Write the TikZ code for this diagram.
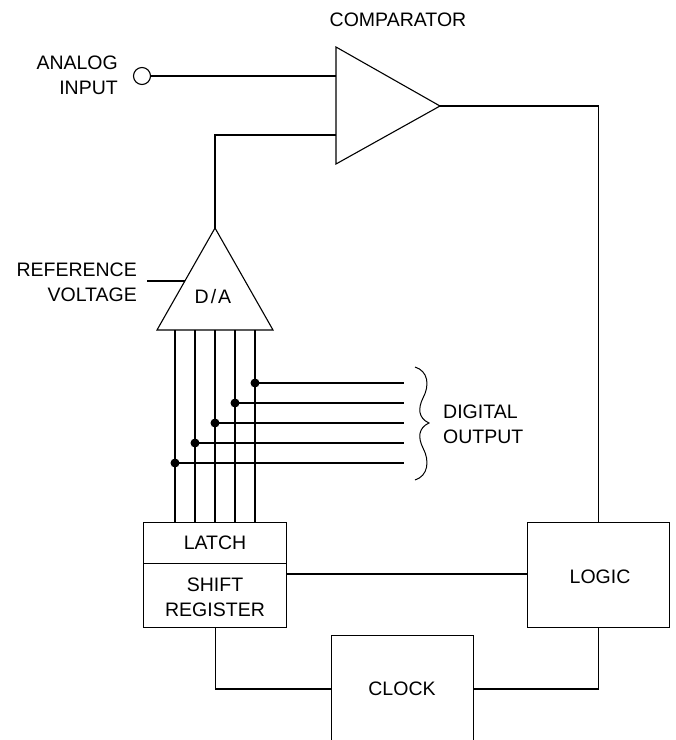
\documentclass[tikz,border=0pt]{standalone}
\usepackage{fontspec}
\setmainfont{Liberation Sans}
\begin{document}
\begin{tikzpicture}[x=1pt,y=-1pt,
  wire/.style={line width=1.1pt,line join=miter},
  blk/.style={draw,line width=1.1pt,rectangle,inner sep=0pt},
  lbl/.style={inner sep=0pt,font=\fontsize{19.5}{25}\selectfont},
  jdot/.style={circle,fill=black,inner sep=0pt,minimum size=9pt}]
\useasboundingbox (0,0) rectangle (676,740);
\clip (0,0) rectangle (676,740);
% comparator
\coordinate (cmpTop) at (336,47);
\coordinate (cmpBot) at (336,164);
\coordinate (cmpOut) at (440,106);
\coordinate (cmpInA) at (336,76);
\coordinate (cmpInB) at (336,135);
\draw[wire] (cmpTop) -- (cmpOut) -- (cmpBot) -- cycle;
\node[lbl] (cmpLbl) at (398,20) {COMPARATOR};
% analog input
\node[draw,circle,line width=1.1pt,minimum size=17pt,inner sep=0pt] (ain) at (142,76) {};
\node[lbl,anchor=east,align=right] (ainLbl) at (118,75) {ANALOG\\INPUT};
\draw[wire] (ain.east) -- (cmpInA);
% D/A
\coordinate (daTop) at (215,228);
\coordinate (daL) at (157,330);
\coordinate (daR) at (273,330);
\draw[wire] (daTop) -- (daR) -- (daL) -- cycle;
\node[lbl] (daLbl) at (213,297) {D\kern2pt/\kern2pt A};
\draw[wire] (cmpInB) -| (daTop);
\coordinate (refEnd) at (147,281);
\coordinate (refIn) at (185,281);
\draw[wire] (refEnd) -- (refIn);
\node[lbl,anchor=east,align=right] (refLbl) at (137,282.5) {REFERENCE\\VOLTAGE};
% latch / shift register
\node[blk,minimum width=143pt,minimum height=41pt,anchor=north west] (latch) at (143,522) {};
\node[lbl] at (latch.center) {LATCH};
\node[blk,minimum width=143pt,minimum height=64pt,anchor=north west] (sreg) at (143,563) {};
\node[lbl,align=center] at (215,597) {SHIFT\\REGISTER};
% bus lines and dots
\foreach \x/\y/\n in {175/463/a,195/443/b,215/423/c,235/403/d,255/383/e}{
  \coordinate (bt\n) at (\x,330);
  \coordinate (bb\n) at (\x,522);
  \node[jdot] (j\n) at (\x,\y) {};
  \coordinate (o\n) at (404,\y);
  \draw[wire] (bt\n) -- (bb\n);
  \draw[wire] (j\n.center) -- (o\n);
}
% brace
\draw[line width=1pt] (415,367) .. controls (428,371) and (430,385) .. (423,398)
  .. controls (418,408) and (418,418) .. (429,423)
  .. controls (418,428) and (418,438) .. (423,448)
  .. controls (430,461) and (428,476) .. (415,480);
\node[lbl,anchor=west,align=left] (doLbl) at (443,424.5) {DIGITAL\\OUTPUT};
% logic
\node[blk,minimum width=142pt,minimum height=105pt,anchor=north west] (logic) at (527,522) {};
\node[lbl] at (600,577) {LOGIC};
% clock
\node[blk,minimum width=142pt,minimum height=130pt,anchor=north west] (clock) at (331,635) {};
\node[lbl] at (402,689) {CLOCK};
% connectors
\draw[wire] (cmpOut) -| (logic.north);
\coordinate (srOut) at (286,574);
\coordinate (lgIn) at (527,574);
\draw[wire] (srOut) -- (lgIn);
\coordinate (clkL) at (331,689);
\coordinate (clkR) at (473,689);
\draw[wire] (sreg.south) |- (clkL);
\draw[wire] (clkR) -| (logic.south);
\end{tikzpicture}
\end{document}
